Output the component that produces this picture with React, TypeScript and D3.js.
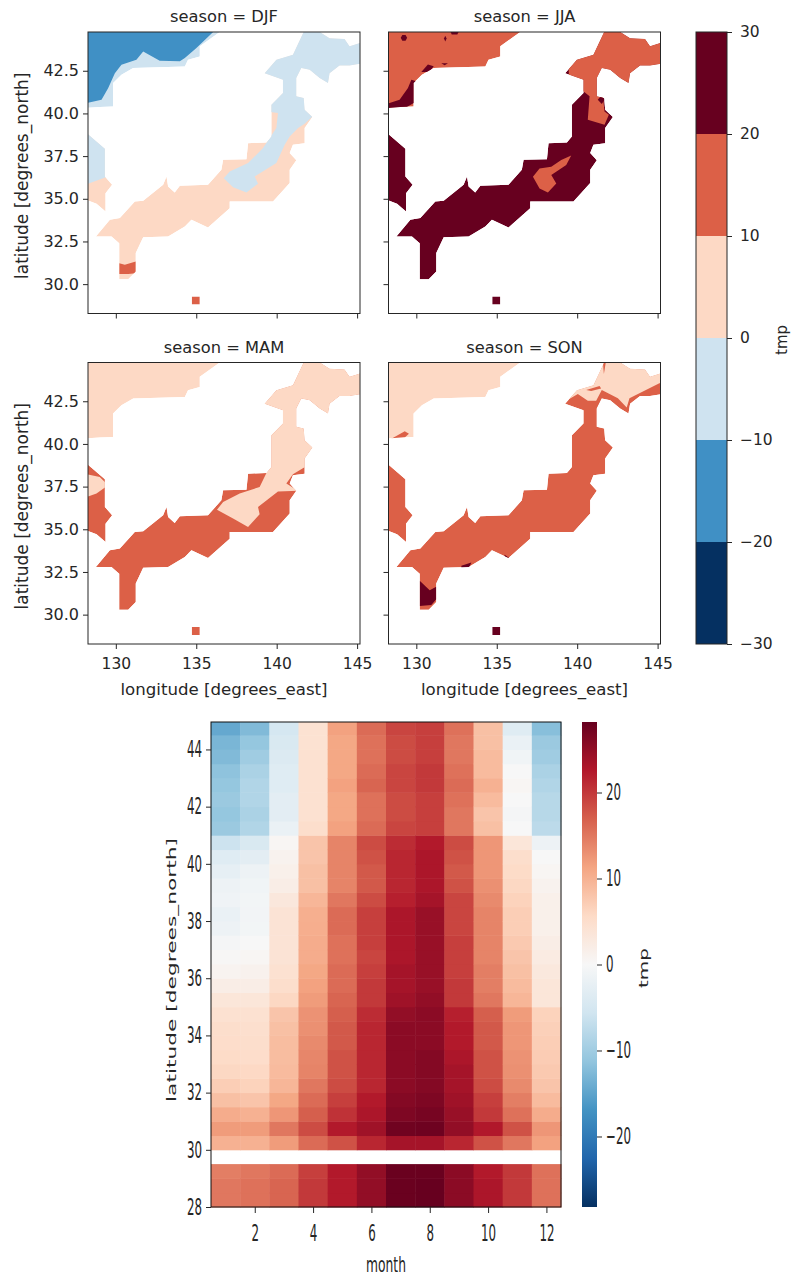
import { useEffect, useRef } from 'react';
import * as d3 from 'd3';

type Pt = [number, number];

// contour levels and their colours (top panels)
const levels = [-20, -10, 0, 10, 20];
const levelColors = ['#053061', '#4090c5', '#cfe3f0', '#fdd9c5', '#dc6047', '#67001f'];

// land outlines, [lon, lat]
const nwCoast: Pt[] = [
  [128, 45.2], [136.46, 45.2], [136.46, 44.77], [135.22, 43.93], [135.22, 43.34], [134.49, 43.14], [134.29, 42.75],
  [131.08, 42.66], [130.35, 42.27], [129.83, 41.78], [129.83, 40.41], [129.0, 40.37], [128, 40.31],
];
const mainLand: Pt[] = [
  [128.76, 32.79], [129.63, 33.77], [130.25, 33.87], [131.18, 34.84], [131.7, 34.88], [132.94, 35.82], [133.15, 36.31],
  [133.25, 35.72], [133.66, 35.37], [133.98, 35.76], [135.73, 35.82], [136.56, 36.7], [136.67, 37.29], [138.12, 37.32],
  [138.22, 38.26], [139.36, 38.3], [139.67, 38.65], [139.67, 40.51], [140.39, 41.19], [140.39, 41.97], [139.25, 42.36],
  [139.98, 43.14], [141.01, 43.44], [141.74, 44.9], [142.46, 44.9], [143.29, 44.41], [144.22, 44.36], [144.53, 43.93],
  [145.5, 44.22], [145.5, 42.95], [144.53, 42.81], [143.91, 42.81], [143.29, 42.36], [143.19, 41.78], [142.67, 42.07],
  [142.05, 42.56], [141.53, 42.66], [141.22, 42.07], [141.22, 41.0], [141.68, 40.9], [141.74, 40.21], [142.22, 39.79],
  [141.74, 39.14], [141.74, 38.26], [141.01, 38.16], [140.81, 37.68], [141.22, 37.25], [140.81, 36.7], [140.81, 35.92],
  [139.77, 34.84], [137.08, 34.84], [137.08, 34.45], [135.73, 33.32], [134.7, 33.77], [134.29, 33.38], [133.25, 32.79],
  [131.7, 32.75], [131.24, 31.82], [131.24, 30.74], [130.77, 30.29], [130.21, 30.29], [130.21, 32.4], [129.73, 32.79],
];
const westCoast: Pt[] = [
  [128, 39.0], [129.32, 37.93], [129.32, 36.31], [129.77, 35.82], [129.36, 35.33], [129.36, 34.26], [128.8, 34.71], [128, 35.0],
];
const islet: Pt[] = [[134.72, 28.8], [135.22, 28.8], [135.22, 29.28], [134.72, 29.28]];

// DJF
const djfNwCold: Pt[] = [
  [128, 45.2], [136.05, 45.2], [136.05, 44.77], [135.01, 43.83], [134.29, 43.24], [133.98, 43.05], [132.73, 43.09],
  [131.7, 43.63], [131.28, 43.14], [130.35, 42.85], [129.94, 42.36], [129.52, 41.48], [129.11, 40.8], [128, 40.57],
];
const djfNorth: Pt[] = [
  [138.94, 45.1], [145.98, 45.1], [145.98, 41.39], [142.46, 40.02], [141.74, 39.39], [141.33, 39.14], [140.81, 38.65],
  [140.5, 38.16], [139.98, 37.09], [138.63, 36.31], [138.84, 35.88], [138.12, 35.37], [137.29, 35.68], [136.71, 36.21],
  [137.08, 36.6], [138.22, 37.09], [139.15, 37.97], [139.98, 39.14], [140.08, 40.02], [139.36, 40.12],
];
const djfWestNorth: Pt[] = [[128, 39.2], [129.63, 39.04], [129.63, 36.35], [128, 35.78]];
const djfKyushu: Pt[] = [
  [130.21, 31.23], [130.56, 31.13], [131.24, 31.33], [131.24, 30.64], [130.77, 30.6], [130.21, 30.6],
];

// MAM
const mamNorth: Pt[] = [
  [138.94, 45.1], [145.98, 45.1], [145.98, 40.8], [142.46, 38.85], [141.68, 38.61], [141.01, 38.22], [140.6, 37.68],
  [141.33, 37.25], [140.08, 37.21], [138.84, 36.31], [138.94, 35.88], [138.22, 35.14], [137.29, 35.63], [136.29, 36.15],
  [136.67, 36.6], [137.7, 37.09], [138.94, 37.48], [139.52, 38.61], [139.15, 40.8],
];
const mamWest: Pt[] = [[128, 38.26], [129.0, 38.07], [129.52, 37.58], [128.8, 37.09], [128, 36.84]];

// JJA
const jjaSpots: Pt[][] = [
  [[129.03, 44.43], [129.13, 44.6], [129.33, 44.6], [129.43, 44.43], [129.33, 44.26], [129.13, 44.26]],
  [[131.72, 44.39], [131.8, 44.55], [131.88, 44.39], [131.8, 44.22]],
  [[132.07, 44.9], [132.69, 44.9], [132.55, 44.62], [132.2, 44.62]],
  [[130.31, 42.43], [130.72, 42.86], [131.08, 42.76], [130.83, 42.43]],
  [[131.55, 42.94], [131.97, 42.94], [131.76, 42.82]],
  [[128, 40.5], [128.96, 40.8], [129.48, 41.49], [129.69, 41.98], [130, 41.88], [130, 40.7], [129.28, 40.3], [128, 40.3]],
];
const jjaNorth: Pt[] = [
  [139.32, 45.2], [146.36, 45.2], [146.36, 41.1], [141.59, 41.1], [141.7, 40.12], [141.97, 39.92], [141.7, 39.33],
  [140.66, 39.63], [140.77, 41.0], [140.19, 41.45], [139.52, 41.69],
];
const jjaBlob: Pt[] = [[141.28, 40.8], [141.49, 41.04], [141.7, 40.8], [141.53, 40.55]];
const jjaInland: Pt[] = [
  [137.25, 36.29], [137.66, 36.78], [138.39, 36.88], [139.01, 37.27], [139.63, 37.53], [139.32, 36.98], [138.39, 36.39],
  [138.7, 35.9], [138.18, 35.37], [137.66, 35.6],
];

// SON
const sonNwSliver: Pt[] = [[128.45, 40.31], [129.28, 40.75], [129.54, 40.6], [129.28, 40.37], [128.45, 40.27]];
const sonNorth: Pt[] = [
  [139.11, 42.41], [140.04, 42.92], [140.66, 42.53], [141.18, 42.53], [141.53, 43.16], [142.53, 42.67], [143.08, 42.14],
  [143.25, 42.67], [145.11, 43.55], [146.36, 43.75], [146.36, 45.1], [139.52, 45.1],
];
const sonSlivers: Pt[][] = [
  [[140.56, 43.16], [141.39, 43.39], [141.49, 43.25], [140.87, 43.1]],
  [[141.59, 44.9], [141.8, 44.9], [141.66, 44.1]],
];
const sonKyushu: Pt[] = [
  [130.21, 31.98], [130.83, 31.43], [131.24, 31.63], [131.24, 30.9], [130.93, 30.57], [130.21, 30.51],
];
const sonCoastSpots: Pt[][] = [
  [[132.8, 32.86], [133.42, 33.06], [133.21, 32.6], [132.8, 32.6]],
  [[135.49, 33.51], [135.8, 33.31], [135.49, 33.2]],
];

// heatmap: one list per month, lat 28.25 .. 44.75 in 0.5 steps
const monthTicks = [2, 4, 6, 8, 10, 12];
const latTicks = [28, 30, 32, 34, 36, 38, 40, 42, 44];
const lats = d3.range(28.25, 45, 0.5);
const tmpJan = [15, 15, 14.5, null, 10, 12, 10.5, 8.5, 7, 6, 5.5, 5.2, 5, 4.5, 3.5, 2, 0.8, 0.2, -0.5, -1.5, -2, -1.2, -1.5, -2.5, -3.5, -6, -10.5, -11, -10.5, -11, -11.5, -12.5, -13, -14.5];
const tmpFeb = [15.5, 15.5, 15, null, 10, 12, 10, 8, 6.5, 5.8, 5.2, 5, 4.8, 4.5, 3.5, 2, 1.2, 0.5, 0, -0.7, -0.8, -0.7, -1, -1.5, -3, -4.5, -8.5, -9, -8.5, -8.5, -9, -10, -11, -12.5];
const tmpMar = [16.5, 16.5, 16, null, 12, 15, 12.5, 11, 9.5, 9, 8.8, 8.8, 8.5, 8, 6, 5, 4.5, 4, 4, 4, 4, 3.2, 2, 1.5, 1, 0.5, -2, -3, -3, -3.5, -3.5, -4, -4.5, -5];
const tmpApr = [20, 20, 19.5, null, 16, 18.5, 17, 16, 15, 14, 13.8, 13.5, 13, 12.8, 12, 11.5, 11, 10.5, 10.5, 10.3, 10.2, 9.5, 8.5, 8.5, 8, 8, 5, 4.5, 4.5, 4.5, 4.5, 4.5, 4.3, 4.3];
const tmpMay = [22.5, 22.5, 22.5, null, 18, 22.5, 20.5, 19.5, 18.5, 18, 18, 17.5, 17.5, 17, 16.5, 16, 16, 15.5, 15.5, 16, 16, 15, 14, 14, 14, 14, 11.5, 11, 11, 11.5, 11, 11, 11, 11.5];
const tmpJun = [25, 25, 25, null, 21.5, 24, 23, 22.5, 21.5, 21.5, 21.5, 21.5, 21.5, 21, 20, 20, 19.5, 19, 19.5, 19.5, 19.5, 18.5, 17.5, 17.5, 18, 18.5, 16, 15.5, 15.5, 16.5, 16, 15.5, 15.5, 16];
const tmpJul = [28, 28, 28, null, 23.5, 27.5, 26.5, 26, 25.5, 25.5, 25.5, 25.5, 25.5, 25, 24, 23.5, 23.5, 23, 23, 23, 23, 22, 21.5, 21.5, 21.5, 21, 19, 18.5, 18.5, 19, 19, 18.5, 18.5, 19];
const tmpAug = [28.2, 28.2, 28, null, 23.5, 27.7, 27, 26.5, 26, 26, 26, 25.5, 25.5, 25.5, 25, 24.5, 24.5, 24.5, 24.5, 24.5, 24.5, 23.5, 23, 23, 23, 22.5, 19.5, 19.5, 19.5, 20, 20, 19.5, 19.5, 19.5];
const tmpSep = [25.5, 25.5, 25.5, null, 21.5, 25, 24.5, 24, 23.5, 23.5, 23, 22.5, 22.5, 22, 20, 20, 19.5, 19.5, 19.5, 19, 19, 19, 18, 17.5, 18, 18.5, 15, 15, 15.5, 16, 15.5, 15, 15, 15.5];
const tmpOct = [23, 23, 22.5, null, 18, 22.6, 20, 19.5, 18.5, 18, 18, 17.5, 17.5, 17, 15, 14.5, 14.5, 14, 14, 14, 14, 13.5, 13, 12.5, 12.5, 12.5, 8.5, 8, 9, 10, 9, 9, 8.5, 8.5];
const tmpNov = [20, 20, 20, null, 15, 18, 15.5, 14.5, 13.5, 13, 12.8, 12.5, 12.5, 12, 9.5, 9, 8.5, 8, 7.5, 7, 7, 6.5, 6, 5.5, 5, 3.5, 0, -0.5, 0, 0.5, 0, -1, -2, -3.5];
const tmpDec = [15.5, 15.5, 15.5, null, 11.5, 12.5, 10.5, 9, 8, 7.5, 7.2, 7, 6.8, 6.5, 3.5, 3.5, 3, 2.5, 2, 1.5, 1.5, 1.5, 1, 0.5, 0, -1.5, -7.5, -8, -8, -8.5, -9, -10, -10.5, -12];
const tmpByMonth = [tmpJan, tmpFeb, tmpMar, tmpApr, tmpMay, tmpJun, tmpJul, tmpAug, tmpSep, tmpOct, tmpNov, tmpDec];

const rdbu = ['#053061', '#2166ac', '#4393c3', '#92c5de', '#d1e5f0', '#f7f7f7', '#fddbc7', '#f4a582', '#d6604d', '#b2182b', '#67001f'];
const textColor = '#262626';
const fontFamily = '"DejaVu Sans", sans-serif';

// each layer = outline + temperature it falls in
const panels = [
  {
    title: 'season = DJF', left: 88, top: 32, xLabels: false, yLabels: true,
    layers: [[nwCoast, -5], [djfNwCold, -15], [mainLand, 5], [westCoast, 5], [djfNorth, -5], [djfWestNorth, -5], [djfKyushu, 15], [islet, 15]],
  },
  {
    title: 'season = JJA', left: 388.5, top: 32, xLabels: false, yLabels: false,
    layers: [[nwCoast, 15], ...jjaSpots.map((s) => [s, 25]), [mainLand, 25], [westCoast, 25], [jjaNorth, 15], [jjaBlob, 25], [jjaInland, 15], [islet, 25]],
  },
  {
    title: 'season = MAM', left: 88, top: 362.5, xLabels: true, yLabels: true,
    layers: [[nwCoast, 5], [mainLand, 15], [westCoast, 15], [mamNorth, 5], [mamWest, 5], [islet, 15]],
  },
  {
    title: 'season = SON', left: 388.5, top: 362.5, xLabels: true, yLabels: false,
    layers: [[nwCoast, 5], [sonNwSliver, 15], [mainLand, 15], [westCoast, 15], [sonNorth, 5], ...sonSlivers.map((s) => [s, 15]), [sonKyushu, 25], ...sonCoastSpots.map((s) => [s, 25]), [islet, 25]],
  },
] as any[];

const App = () => {
  const svgRef = useRef<SVGSVGElement>(null);

  useEffect(() => {
    const svg = d3.select(svgRef.current);
    svg.selectAll('*').remove();

    const bandColor = d3.scaleThreshold<number, string>().domain(levels).range(levelColors);

    // tick styling shared by every axis
    const styleAxis = (g: any, size: number, sx = 1, sy = 1) => {
      g.select('.domain').remove();
      g.selectAll('.tick line').attr('stroke', textColor).attr('stroke-width', 1);
      g.selectAll('.tick text')
        .attr('fill', textColor)
        .attr('font-size', size)
        .attr('font-family', fontFamily)
        .each(function (this: any) {
          const t = d3.select(this);
          const x = +t.attr('x') || 0;
          const y = +t.attr('y') || 0;
          t.attr('x', null).attr('y', null).attr('transform', `translate(${x},${y}) scale(${sx},${sy})`);
        });
    };

    const label = (x: number, y: number, text: string, size: number, rotate = 0, sx = 1, sy = 1) =>
      svg
        .append('text')
        .attr('transform', `translate(${x},${y}) rotate(${rotate}) scale(${sx},${sy})`)
        .attr('text-anchor', 'middle')
        .attr('font-size', size)
        .attr('font-family', fontFamily)
        .attr('fill', textColor)
        .text(text);

    // seasonal maps
    const pw = 272;
    const ph = 281.5;
    panels.forEach((p, i) => {
      const x = d3.scaleLinear().domain([128.27, 145.18]).range([p.left, p.left + pw]);
      const y = d3.scaleLinear().domain([28.28, 44.77]).range([p.top + ph, p.top]);
      const path = d3.line<Pt>().x((d) => x(d[0])).y((d) => y(d[1]));

      const clipId = `frame-${i}`;
      svg.append('clipPath').attr('id', clipId)
        .append('rect').attr('x', p.left).attr('y', p.top).attr('width', pw).attr('height', ph);
      const g = svg.append('g').attr('clip-path', `url(#${clipId})`);

      // overlays stay inside the land outlines
      const landId = `land-${i}`;
      const land = svg.append('clipPath').attr('id', landId);
      [nwCoast, mainLand, westCoast, islet].forEach((o) => land.append('path').attr('d', path(o) + 'Z'));
      const inner = g.append('g').attr('clip-path', `url(#${landId})`);

      p.layers.forEach(([pts, t]: [Pt[], number]) => {
        inner.append('path').attr('d', path(pts) + 'Z').attr('fill', bandColor(t));
      });

      svg.append('rect')
        .attr('x', p.left).attr('y', p.top).attr('width', pw).attr('height', ph)
        .attr('fill', 'none').attr('stroke', textColor).attr('stroke-width', 1);

      const xAxis = d3.axisBottom(x).tickValues([130, 135, 140, 145]).tickSize(5).tickPadding(9)
        .tickFormat((d) => (p.xLabels ? String(d) : ''));
      svg.append('g').attr('transform', `translate(0,${p.top + ph})`).call(xAxis).call(styleAxis, 15.5);

      const yAxis = d3.axisLeft(y).tickValues([30, 32.5, 35, 37.5, 40, 42.5]).tickSize(5).tickPadding(4)
        .tickFormat((d) => (p.yLabels ? d3.format('.1f')(d as number) : ''));
      svg.append('g').attr('transform', `translate(${p.left},0)`).call(yAxis).call(styleAxis, 16);

      label(p.left + pw / 2, p.top - 10, p.title, 16.3);
      if (p.xLabels) label(p.left + pw / 2, p.top + ph + 51, 'longitude [degrees_east]', 16.6);
      if (p.yLabels) label(28, p.top + ph / 2 + 3, 'latitude [degrees_north]', 17, -90);
    });

    // discrete colorbar
    const cbarY = d3.scaleLinear().domain([-30, 30]).range([644, 32]);
    const cbarTicks = [-30, -20, -10, 0, 10, 20, 30];
    d3.pairs(cbarTicks).forEach(([a, b]) => {
      svg.append('rect')
        .attr('x', 696).attr('y', cbarY(b)).attr('width', 31).attr('height', cbarY(a) - cbarY(b))
        .attr('fill', bandColor((a + b) / 2));
    });
    svg.append('rect').attr('x', 696).attr('y', 32).attr('width', 31).attr('height', 612)
      .attr('fill', 'none').attr('stroke', textColor);
    svg.append('g').attr('transform', 'translate(727,0)')
      .call(d3.axisRight(cbarY).tickValues(cbarTicks).tickSize(5).tickPadding(8).tickFormat((d) => String(d).replace('-', '\u2212')))
      .call(styleAxis, 15.5);
    label(787, 340, 'tmp', 15, -90);

    // month / latitude heatmap
    const hx = d3.scaleLinear().domain([0.5, 12.5]).range([211, 561]);
    const hy = d3.scaleLinear().domain([28, 44.96]).range([1207, 722]);
    const vmax = 28.2;
    const color = d3.scaleLinear<string>()
      .domain(rdbu.map((_, i) => -vmax + (2 * vmax * i) / (rdbu.length - 1)))
      .range(rdbu);

    tmpByMonth.forEach((col, m) => {
      col.forEach((v, r) => {
        if (v === null) return;
        const y0 = hy(Math.min(lats[r] + 0.25, 44.96));
        svg.append('rect')
          .attr('x', hx(m + 0.5)).attr('y', y0)
          .attr('width', hx(m + 1.5) - hx(m + 0.5) + 0.5).attr('height', hy(lats[r] - 0.25) - y0 + 0.5)
          .attr('fill', color(v));
      });
    });
    svg.append('rect').attr('x', 211).attr('y', 722).attr('width', 350).attr('height', 485)
      .attr('fill', 'none').attr('stroke', '#111').attr('stroke-width', 1);

    svg.append('g').attr('transform', 'translate(0,1207)')
      .call(d3.axisBottom(hx).tickValues(monthTicks).tickSize(6).tickPadding(6).tickFormat(String as any))
      .call(styleAxis, 15, 0.79, 1.5)
      .selectAll('.tick text').attr('dy', '1em');
    svg.append('g').attr('transform', 'translate(211,0)')
      .call(d3.axisLeft(hy).tickValues(latTicks).tickSize(5).tickPadding(4).tickFormat(String as any))
      .call(styleAxis, 15, 0.79, 1.5);
    label(386, 1272, 'month', 15, 0, 0.82, 1.4);
    label(176, 970, 'latitude [degrees_north]', 15, -90, 1.45, 0.85);

    // continuous colorbar
    const defs = svg.append('defs');
    const grad = defs.append('linearGradient').attr('id', 'tmp-grad').attr('x1', 0).attr('x2', 0).attr('y1', 1).attr('y2', 0);
    rdbu.forEach((c, i) => {
      grad.append('stop').attr('offset', i / (rdbu.length - 1)).attr('stop-color', c);
    });
    const barY = d3.scaleLinear().domain([-vmax, vmax]).range([1207, 722]);
    svg.append('rect').attr('x', 582).attr('y', 722).attr('width', 15).attr('height', 485).attr('fill', 'url(#tmp-grad)');
    svg.append('g').attr('transform', 'translate(597,0)')
      .call(d3.axisRight(barY).tickValues([-20, -10, 0, 10, 20]).tickSize(5).tickPadding(4).tickFormat((d) => String(d).replace('-', '\u2212')))
      .call(styleAxis, 15, 0.79, 1.5);
    label(648, 968, 'tmp', 15, -90, 1.33, 0.85);
  }, []);

  return (
    <svg
      ref={svgRef}
      width={791}
      height={1277}
      style={{ position: 'absolute', left: 0, top: 0, background: '#fff' }}
    />
  );
};

export default App;
